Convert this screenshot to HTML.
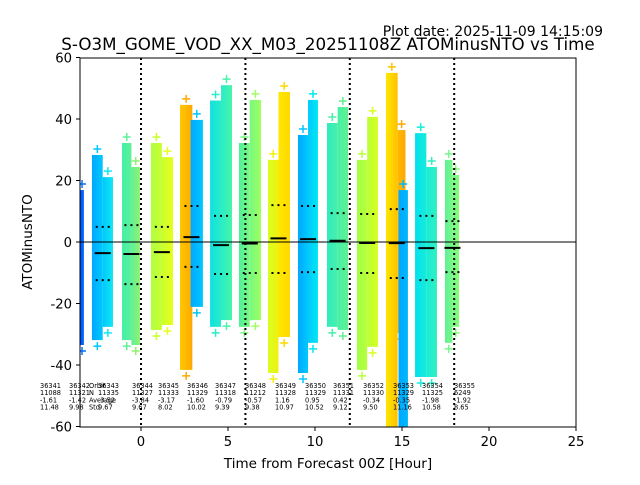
<!DOCTYPE html>
<html><head><meta charset="utf-8"><style>
body{margin:0;background:#fff;}
svg text{font-family:"DejaVu Sans","Liberation Sans",sans-serif;}
</style></head><body>
<svg id="chart" width="640" height="480" viewBox="0 0 640 480" xmlns="http://www.w3.org/2000/svg">
<defs><clipPath id="pc"><rect x="80" y="58" width="496" height="369"/></clipPath></defs>
<rect width="640" height="480" fill="#fff"/>
<text x="603" y="36" font-size="14" text-anchor="end">Plot date: 2025-11-09 14:15:09</text>
<text x="328" y="50" font-size="16.7" text-anchor="middle">S-O3M_GOME_VOD_XX_M03_20251108Z ATOMinusNTO vs Time</text>
<g id="bands" clip-path="url(#pc)"></g>
<g id="overlay"></g>
<rect x="80" y="58" width="496" height="369" fill="none" stroke="#000" stroke-width="1"/>
<g id="axes"></g>
<text x="328" y="468" font-size="13.5" text-anchor="middle">Time from Forecast 00Z [Hour]</text>
<text x="32" y="242" font-size="13.5" text-anchor="middle" transform="rotate(-90 32 242)">ATOMinusNTO</text>
</svg>
<script>
const segX0=[-3.5,-2.82,-2.2,-1.09,-0.55,0.57,1.2,2.24,2.85,3.97,4.6,5.63,6.25,7.3,7.9,9.02,9.6,10.69,11.3,12.41,13.0,14.08,14.75,14.8,15.75,16.4,17.47,17.9];
const segX1=[-3.28,-2.2,-1.61,-0.55,-0.06,1.2,1.84,2.95,3.56,4.6,5.23,6.25,6.9,7.9,8.56,9.6,10.17,11.3,11.9,13.0,13.62,14.75,15.2,15.34,16.4,17.01,17.9,18.28];
const segTop=[16.9,28.3,21.1,32.2,24.4,32.2,27.6,44.6,39.7,46,51,32.2,46.2,26.7,48.8,34.8,46.2,38.7,43.9,26.7,40.7,55,36.4,16.9,35.4,24.4,26.7,21.8];
const segBot=[-33.5,-31.9,-27.6,-31.9,-33.5,-28.6,-27,-41.6,-21.1,-27.6,-25.4,-27.6,-25.4,-42.6,-30.9,-42.6,-32.8,-27.6,-28.6,-41.6,-34.1,-60,-29.6,-60,-43.9,-43.9,-32.8,-27.6];
const segC0=["#0050ff","#00a8ff","#00c8ff","#40f0a8","#60f098","#b0ff40","#c8ff30","#ffc800","#00a8ff","#10e0e0","#28ecc8","#50f098","#78f880","#d8ff20","#ffe800","#00a8ff","#00c8ff","#30ecc0","#48f0a8","#a0ff48","#b8ff38","#ffe800","#ffb800","#00a8ff","#00e0f0","#18ecd8","#60f098","#78f888"];
const segC1=["#0070ff","#00c8ff","#10e8f0","#60f098","#90f070","#c8ff30","#e8ff18","#ffa800","#00c8ff","#28ecc8","#48f4a8","#78f880","#a0ff60","#f0f010","#ffd800","#00c8ff","#00e8f0","#48f0a8","#60f090","#b8ff38","#d8ff20","#ffc000","#ffa800","#00b8ff","#18ecd8","#30f0c0","#78f888","#88fc78"];
const statCenter=[-2.2,-0.55,1.2,2.9,4.6,6.25,7.9,9.6,11.3,13,14.7,16.4,17.9];
const statMean=[-3.6,-3.9,-3.3,1.6,-1,-0.5,1.16,0.95,0.42,-0.34,-0.35,-1.98,-1.92];
const statUp=[4.9,5.5,4.9,11.7,8.5,8.8,12,11.7,9.4,9.1,10.7,8.5,6.8];
const statDn=[-12.4,-13.7,-11.4,-8.1,-10.4,-10.1,-10.1,-9.8,-8.8,-10.1,-11.7,-12.4,-9.8];
const xTicks=[0,5,10,15,20,25];
const yTicks=[-60,-40,-20,0,20,40,60];
const vLines=[0,6,12,18];
const orbits=["36341","36342","36343","36344","36345","36346","36347","36348","36349","36350","36351","36352","36353","36354","36355"];
const counts=["11088","11321","11335","11327","11333","11329","11318","11212","11328","11329","11331","11330","11329","11325","6249"];
const avgs=["-1.61","-1.42","-3.52","-3.84","-3.17","-1.60","-0.79","-0.57","1.16","0.95","0.42","-0.34","-0.35","-1.98","-1.92"];
const stds=["11.48","9.98","9.67","9.67","8.02","10.02","9.39","9.38","10.97","10.52","9.12","9.50","11.16","10.58","8.65"];
const annLeft=[40,69,98,132,158,187,215,245,275,305,333,363,393,422,454];

const NS="http://www.w3.org/2000/svg";
const X=h=>141+(h)*17.4;
const Y=v=>242-v*3.075;
function mk(tag,attrs,parent){const e=document.createElementNS(NS,tag);for(const k in attrs)e.setAttribute(k,attrs[k]);parent.appendChild(e);return e;}
const svg=document.getElementById('chart');
const defs=svg.querySelector('defs');
const bands=document.getElementById('bands');
const overlay=document.getElementById('overlay');
const axes=document.getElementById('axes');

for(let i=0;i<segX0.length;i++){
  const g=mk('linearGradient',{id:'g'+i,x1:'0',x2:'1',y1:'0',y2:'0'},defs);
  mk('stop',{offset:'0','stop-color':segC0[i]},g);
  mk('stop',{offset:'1','stop-color':segC1[i]},g);
  const r=mk('rect',{x:X(segX0[i]),y:Y(segTop[i]),width:X(segX1[i])-X(segX0[i]),height:Y(segBot[i])-Y(segTop[i]),fill:'url(#g'+i+')'},bands);
  
  
  const cx=(X(segX0[i])+X(segX1[i]))/2;
  [Y(segTop[i])-6,Y(segBot[i])+6].forEach(py=>{
    const p=mk('path',{d:`M${cx-4} ${py}h8M${cx} ${py-4}v8`,stroke:segC1[i],'stroke-width':1.5},bands);
    
    
  });
}
const zl=mk('line',{x1:80,x2:576,y1:Y(0),y2:Y(0),stroke:'#000','stroke-width':1},overlay);


vLines.forEach(h=>{
  const l=mk('line',{x1:X(h),x2:X(h),y1:58,y2:427,stroke:'#000','stroke-width':2,'stroke-dasharray':'2,3'},overlay);
  
  
});
for(let i=0;i<statCenter.length;i++){
  const cx=X(statCenter[i]);
  const m=mk('line',{x1:cx-8,x2:cx+8,y1:Y(statMean[i]),y2:Y(statMean[i]),stroke:'#000','stroke-width':2},overlay);
  
  
  [statUp[i],statDn[i]].forEach(v=>{
    const d=mk('line',{x1:cx-7,x2:cx+8,y1:Y(v),y2:Y(v),stroke:'#000','stroke-width':2,'stroke-dasharray':'2,4'},overlay);
    
    
  });
}
const rows=[orbits,counts,avgs,stds];
for(let i=0;i<orbits.length;i++){
  for(let r=0;r<4;r++){
    const t=mk('text',{x:annLeft[i],y:388+r*7.2,'font-size':6.6},overlay);
    t.textContent=rows[r][i];
    
    
  }
}
["Orbit","N","Average","Std"].forEach((s,r)=>{
  const t=mk('text',{x:89,y:388+r*7.2,'font-size':6.6},overlay);
  t.textContent=s;
  
  
});
xTicks.forEach(v=>{
  const l=mk('line',{x1:X(v),x2:X(v),y1:427,y2:431,stroke:'#000'},axes);
  
  
  const t=mk('text',{x:X(v),y:446,'font-size':13.2,'text-anchor':'middle'},axes);
  t.textContent=v;
  
  
});
yTicks.forEach(v=>{
  const l=mk('line',{x1:76,x2:80,y1:Y(v),y2:Y(v),stroke:'#000'},axes);
  
  
  const t=mk('text',{x:72,y:Y(v)+5,'font-size':13.2,'text-anchor':'end'},axes);
  t.textContent=v;
  
  
});
</script>
</body></html>
